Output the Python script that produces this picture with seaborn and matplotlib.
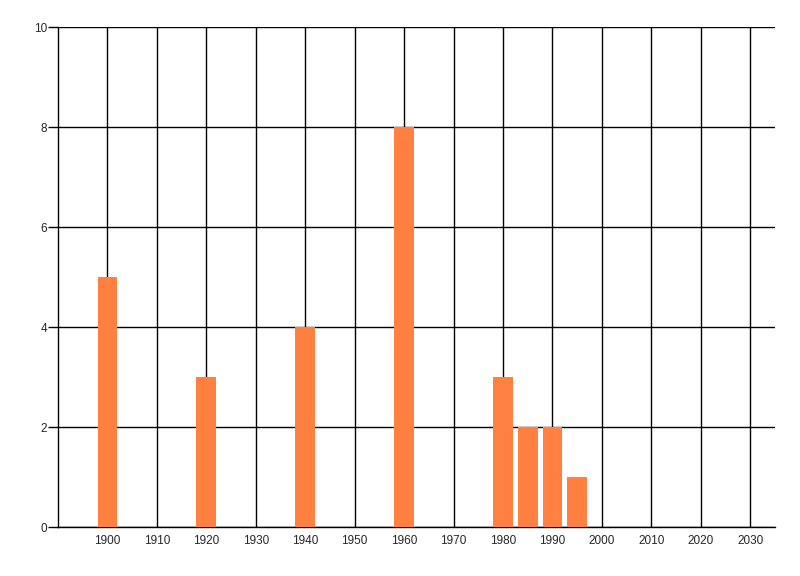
import matplotlib
matplotlib.use("Agg")
import matplotlib.pyplot as plt
import seaborn as sns
import pandas as pd

years = [1900, 1920, 1940, 1960, 1980, 1985, 1990, 1995]
values = [5, 3, 4, 8, 3, 2, 2, 1]
xticks = list(range(1900, 2031, 10))
yticks = [0, 2, 4, 6, 8, 10]

sns.set_style("white")
plt.rcParams['font.family'] = ['Liberation Sans', 'DejaVu Sans']

df = pd.DataFrame({"year": years, "value": values})

fig = plt.figure(figsize=(8, 5.76), dpi=100)
ax = fig.add_axes([58/800, 1-527/576, (775-58)/800, (527-27)/576])

sns.barplot(data=df, x="year", y="value", native_scale=True, width=0.8,
            color="#FF8040", saturation=1, ax=ax, zorder=3, linewidth=0)

ax.set_xlim(1890, 2035)
ax.set_ylim(0, 10)
ax.set_xticks(xticks)
ax.set_xticklabels([str(t) for t in xticks])
ax.set_yticks(yticks)
ax.set_yticklabels([str(t) for t in yticks])
ax.grid(True, color="black", linewidth=1)
ax.set_axisbelow(True)
for s in ["top", "right"]:
    ax.spines[s].set_visible(False)
for s in ["left", "bottom"]:
    ax.spines[s].set_color("black")
    ax.spines[s].set_linewidth(1)
ax.tick_params(axis="y", length=7, width=1, color="black", labelsize=8.5, pad=1, left=True)
ax.tick_params(axis="x", length=0, labelsize=8.5, pad=6)
ax.set_xlabel("")
ax.set_ylabel("")

fig.savefig("out.png", dpi=100)
